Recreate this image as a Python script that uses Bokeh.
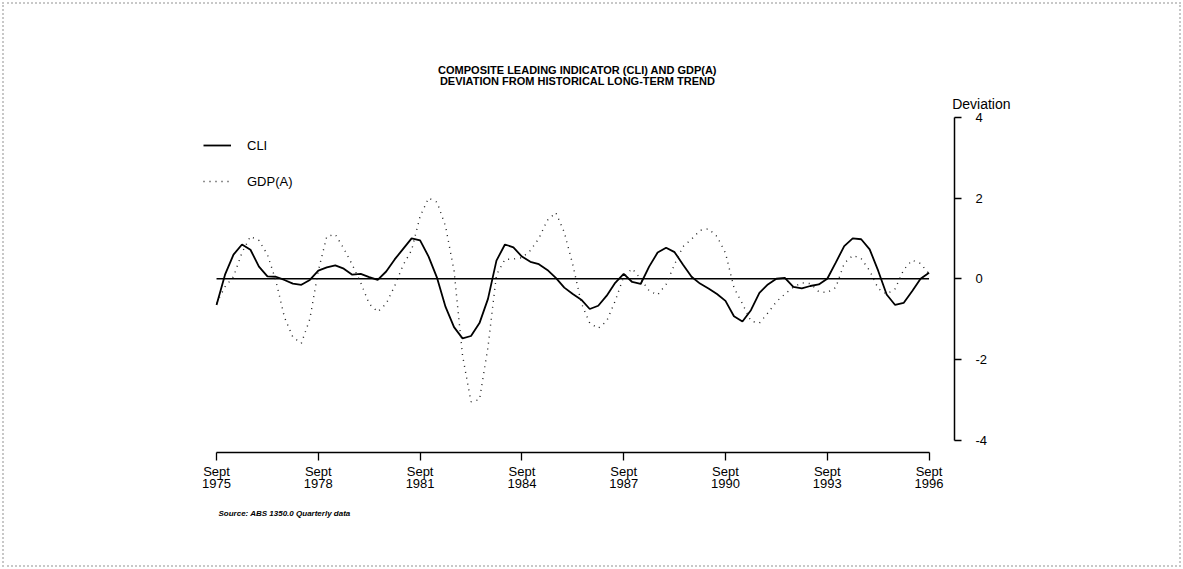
from bokeh.plotting import figure
from bokeh.models import (Range1d, FixedTicker, Title, Legend, LegendItem,
                          ColumnDataSource, InlineStyleSheet)
from bokeh.embed import file_html
from bokeh.resources import INLINE

# ---------------- data (quarterly, Sept 1975 .. Sept 1996) ----------------
quarter_index = list(range(85))
cli = [-0.65, 0.10, 0.60, 0.85, 0.72, 0.30, 0.06, 0.05, -0.03, -0.12,
       -0.15, -0.03, 0.20, 0.28, 0.33, 0.25, 0.10, 0.12, 0.04, -0.03,
       0.18, 0.48, 0.74, 1.00, 0.95, 0.55, 0.02, -0.70, -1.20, -1.48,
       -1.42, -1.10, -0.50, 0.45, 0.85, 0.78, 0.55, 0.42, 0.36, 0.22,
       0.02, -0.22, -0.38, -0.52, -0.75, -0.67, -0.42, -0.10, 0.12, -0.08,
       -0.13, 0.30, 0.65, 0.77, 0.66, 0.35, 0.05, -0.12, -0.24, -0.38,
       -0.55, -0.93, -1.06, -0.78, -0.35, -0.14, 0.00, 0.02, -0.20, -0.24,
       -0.18, -0.14, 0.00, 0.40, 0.81, 1.00, 0.98, 0.73, 0.20, -0.39,
       -0.65, -0.60, -0.31, 0.00, 0.15]
gdp = [-0.60, -0.20, 0.05, 0.65, 1.05, 0.95, 0.60, -0.05, -0.95, -1.45,
       -1.60, -1.00, 0.20, 1.05, 1.10, 0.75, 0.35, -0.10, -0.62, -0.82,
       -0.62, -0.18, 0.34, 0.71, 1.55, 2.00, 1.90, 1.30, 0.20, -1.90,
       -3.05, -3.00, -1.70, 0.10, 0.48, 0.49, 0.52, 0.70, 1.00, 1.45,
       1.64, 1.15, 0.35, -0.60, -1.10, -1.23, -1.05, -0.55, 0.05, 0.25,
       0.00, -0.30, -0.40, -0.14, 0.36, 0.80, 0.98, 1.20, 1.24, 1.05,
       0.64, -0.22, -0.62, -1.05, -1.10, -0.85, -0.57, -0.38, -0.21, -0.10,
       -0.12, -0.32, -0.34, -0.22, 0.38, 0.58, 0.50, 0.20, -0.24, -0.38,
       -0.25, 0.22, 0.46, 0.38, 0.12]
tick_years = ["1975", "1978", "1981", "1984", "1987", "1990", "1993", "1996"]
tick_positions = [0, 12, 24, 36, 48, 60, 72, 84]
y_ticks = [-4, -2, 0, 2, 4]
y_tick_labels = ["-4", "-2", "0", "2", "4"]
zero_line = [0.0, 0.0]

title_lines = ["COMPOSITE LEADING INDICATOR (CLI) AND GDP(A)",
               "DEVIATION FROM HISTORICAL LONG-TERM TREND"]
y_caption = "Deviation"
source_text = "Source: ABS 1350.0 Quarterly data"

FONT = "Liberation Sans"

page_border = InlineStyleSheet(css="""
:host { position: relative; }
:host::after { content: ""; position: absolute; left: 2px; top: 2px; right: 2px; bottom: 2px;
               border: 2px dotted #c8c8c8; pointer-events: none; z-index: 1000; }
""")

p = figure(width=1183, height=569, output_backend="svg", toolbar_location=None,
           x_range=Range1d(-1.89, 87.0), y_range=Range1d(-4.31, 4.0),
           x_axis_location="below", y_axis_location="right",
           min_border_left=200, min_border_right=229,
           min_border_top=117, min_border_bottom=117,
           stylesheets=[page_border])
p.outline_line_color = None
p.grid.visible = False
p.background_fill_color = "white"
p.border_fill_color = "white"

# x axis
xa = p.xaxis[0]
xa.ticker = FixedTicker(ticks=tick_positions)
xa.major_label_overrides = {t: "Sept\n" + y for t, y in zip(tick_positions, tick_years)}
xa.bounds = (tick_positions[0], tick_positions[-1])
xa.axis_line_width = 1.5
xa.axis_line_color = "black"
xa.major_tick_in = 0
xa.major_tick_out = 8
xa.major_tick_line_width = 1.3
xa.minor_tick_line_color = None
xa.major_label_text_font = FONT
xa.major_label_text_font_size = "13px"
xa.major_label_text_color = "black"
xa.major_label_text_line_height = 0.8
xa.major_label_standoff = 3

# y axis (right)
ya = p.yaxis[0]
ya.ticker = FixedTicker(ticks=y_ticks)
ya.major_label_overrides = dict(zip(y_ticks, y_tick_labels))
ya.bounds = (y_ticks[0], y_ticks[-1])
ya.axis_line_width = 1.5
ya.axis_line_color = "black"
ya.major_tick_in = 0
ya.major_tick_out = 7
ya.major_tick_line_width = 1.3
ya.minor_tick_line_color = None
ya.major_label_text_font = FONT
ya.major_label_text_font_size = "13px"
ya.major_label_text_color = "black"
ya.major_label_standoff = 14

# zero line
p.line([quarter_index[0], quarter_index[-1]], zero_line, line_color="black", line_width=1.5)

src = ColumnDataSource(dict(q=quarter_index, cli=cli, gdp=gdp))
r_cli = p.line("q", "cli", source=src, line_color="black", line_width=1.8)
r_gdp = p.line("q", "gdp", source=src, line_color="#222222", line_width=1.4, line_dash="1 5")

legend = Legend(items=[LegendItem(label="CLI", renderers=[r_cli]),
                       LegendItem(label="GDP(A)", renderers=[r_gdp])],
                location=(3, 261), orientation="vertical",
                glyph_width=28, glyph_height=20, label_height=20, spacing=16,
                label_standoff=16, padding=0, margin=0,
                label_text_font=FONT, label_text_font_size="13px",
                label_text_color="black",
                border_line_color=None, background_fill_alpha=0)
p.add_layout(legend)

# texts above the frame (first added = nearest the frame)
p.add_layout(Title(text=y_caption, align="right", offset=-56, standoff=11,
                   text_font=FONT, text_font_style="normal", text_font_size="14px",
                   text_color="black"), "above")
p.add_layout(Title(text=title_lines[1], align="center", offset=-15, standoff=3,
                   text_font=FONT, text_font_style="bold", text_font_size="11px",
                   text_color="black"), "above")
p.add_layout(Title(text=title_lines[0], align="center", offset=-15, standoff=-9,
                   text_font=FONT, text_font_style="bold", text_font_size="11px",
                   text_color="black"), "above")

# source note below the axis
p.add_layout(Title(text=source_text, align="left", offset=18, standoff=26,
                   text_font=FONT, text_font_style="bold italic", text_font_size="8px",
                   text_color="black"), "below")

open("out.html", "w").write(file_html(p, INLINE))
